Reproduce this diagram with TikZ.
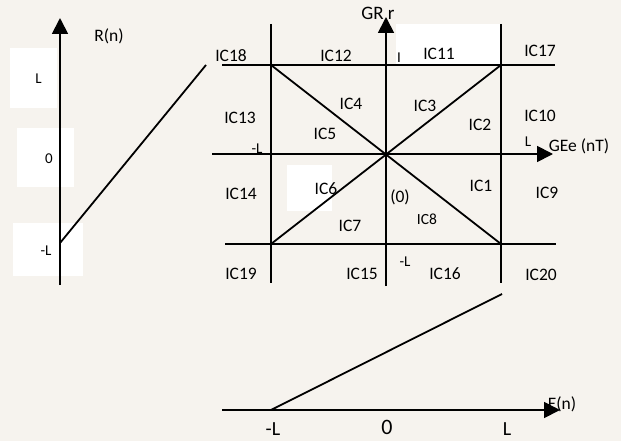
\documentclass[tikz,border=0pt]{standalone}
\usepackage{fontspec}
\setmainfont{Carlito}
\usetikzlibrary{arrows.meta}
\definecolor{bgpale}{RGB}{246,243,238}
\tikzset{
  ln/.style={line width=1.8pt, line cap=butt},
  axis/.style={line width=1.8pt, -{Triangle[length=16pt,width=16pt]}},
  lbl/.style={inner sep=0pt, font=\fontsize{17.5}{20}\selectfont},
  sml/.style={inner sep=0pt, font=\fontsize{15}{18}\selectfont},
  mid/.style={inner sep=0pt, font=\fontsize{15.5}{18}\selectfont},
  big/.style={inner sep=0pt, font=\fontsize{20}{24}\selectfont}
}
\begin{document}
\begin{tikzpicture}[x=1pt,y=-1pt]
\useasboundingbox (0,0) rectangle (621,441);
\fill[bgpale] (0,0) rectangle (621,441);
% white patches
\fill[white] (10,48) rectangle (57,108);
\fill[white] (17,128) rectangle (74,187);
\fill[white] (13,223) rectangle (83,276);
\fill[white] (287,165) rectangle (332,211);
\fill[white] (396,24) rectangle (500,65);

% ---------- left axis R(n)
\coordinate (rb) at (60,285);
\coordinate (rt) at (60,18);
\coordinate (rl) at (60,243);
\coordinate (ru) at (206,65);
\draw[axis] (rb) -- (rt);
\draw[ln] (rl) -- (ru);
\node[lbl] (rn) at (109,36) {R(n)};
\node[sml] (rL) at (38.5,79) {L};
\node[sml] (r0) at (49,159) {0};
\node[sml] (rmL) at (46,251) {-L};

% ---------- main grid
\coordinate (v1t) at (271,24);  \coordinate (v1b) at (271,283);
\coordinate (v3t) at (501,24);  \coordinate (v3b) at (501,283);
\coordinate (gb) at (386,286);  \coordinate (gt) at (386,17);
\coordinate (h1l) at (222,65);  \coordinate (h1r) at (555,65);
\coordinate (h3l) at (225,244); \coordinate (h3r) at (556,244);
\coordinate (ga) at (212,154);  \coordinate (gz) at (553,154);
\coordinate (tl) at (271,65);   \coordinate (tr) at (501,65);
\coordinate (bl) at (271,244);  \coordinate (br) at (501,244);
\draw[ln] (v1t) -- (v1b);
\draw[ln] (v3t) -- (v3b);
\draw[ln] (h1l) -- (h1r);
\draw[ln] (h3l) -- (h3r);
\draw[ln] (tl) -- (br);
\draw[ln] (tr) -- (bl);
\draw[axis] (ga) -- (gz);
\draw[axis] (gb) -- (gt);

\node[inner sep=0pt, font=\fontsize{19}{22}\selectfont] (grr) at (378,13) {GR r};
\node[lbl] (gee) at (579,146) {GEe (nT)};
\node[sml] (gL) at (528,142) {L};
\node[sml] (gmL) at (257,149) {-L};
\node[sml] (gmL2) at (405,262) {-L};
\node[sml] (tick) at (399,58) {I};

\node[lbl] (c18) at (231,56) {IC18};
\node[lbl] (c12) at (336,56) {IC12};
\node[lbl] (c11) at (439,54) {IC11};
\node[lbl] (c17) at (540,50.5) {IC17};
\node[lbl] (c4) at (351,104) {IC4};
\node[lbl] (c3) at (425,106) {IC3};
\node[lbl] (c2) at (480,125) {IC2};
\node[lbl] (c10) at (540,116) {IC10};
\node[lbl] (c13) at (240,118) {IC13};
\node[lbl] (c5) at (325,134) {IC5};
\node[lbl] (c14) at (241,194) {IC14};
\node[lbl] (c6) at (326,189) {IC6};
\node[lbl] (c0) at (400,197) {(0)};
\node[lbl] (c1) at (481,186) {IC1};
\node[lbl] (c9) at (547,193) {IC9};
\node[mid] (c8) at (427,219) {IC8};
\node[lbl] (c7) at (350,226) {IC7};
\node[lbl] (c19) at (241,274) {IC19};
\node[lbl] (c15) at (362,274) {IC15};
\node[lbl] (c16) at (445,274) {IC16};
\node[lbl] (c20) at (541,275) {IC20};

% ---------- bottom axis E(n)
\coordinate (ea) at (222,410);
\coordinate (ez) at (560,410);
\coordinate (el) at (271,410);
\coordinate (eu) at (502,294);
\draw[axis] (ea) -- (ez);
\draw[ln] (el) -- (eu);
\node[lbl] (en) at (562,404) {E(n)};
\node[big] (emL) at (273,429) {-L};
\node[inner sep=0pt, font=\fontsize{22}{26}\selectfont] (e0) at (387,427) {0};
\node[big] (eL) at (507,429) {L};
\end{tikzpicture}
\end{document}
